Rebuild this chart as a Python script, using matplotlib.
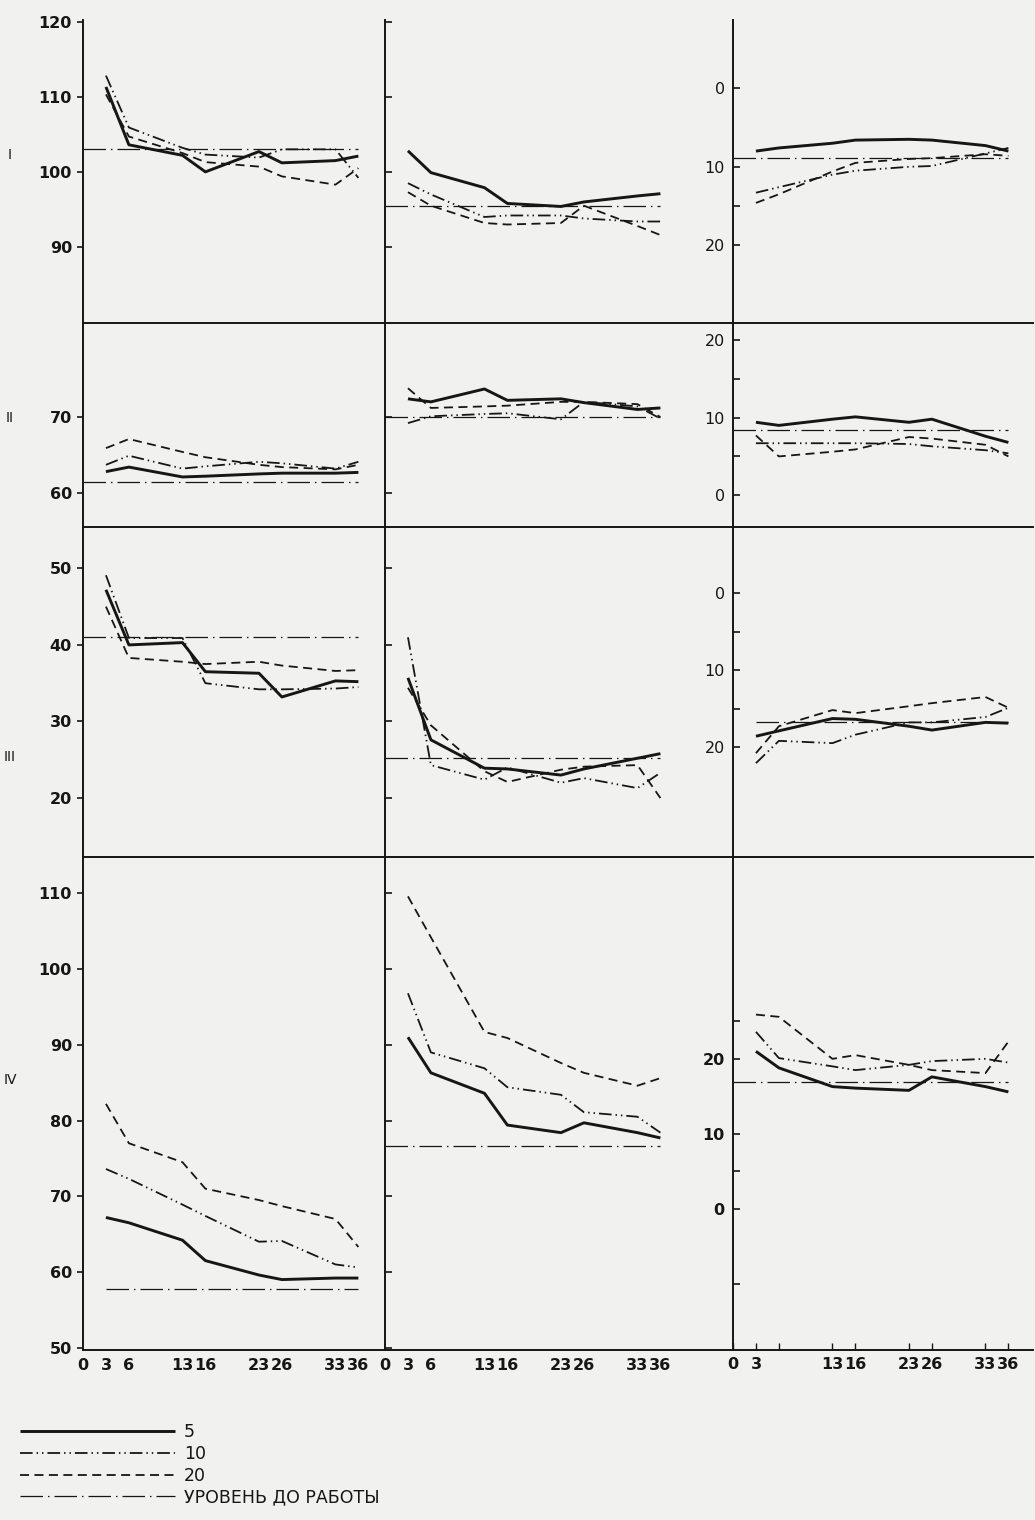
import matplotlib.pyplot as plt
from matplotlib.ticker import FixedLocator

W, H = 1035, 1520

# days of measurement (x axis)
days = [3, 6, 13, 16, 23, 26, 33, 36]
day_ticks = [0, 3, 6, 13, 16, 23, 26, 33, 36]
day_labels_ab = ["0", "3", "6", "13", "16", "23", "26", "33", "36"]
day_labels_c = ["0", "3", "", "13", "16", "23", "26", "33", "36"]
row_names = ["I", "II", "III", "IV"]
legend_labels = ["5", "10", "20", "УРОВЕНЬ ДО РАБОТЫ"]

# row I
I_a_5 = [111.3, 103.6, 102.2, 100.0, 102.7, 101.2, 101.5, 102.1]
I_a_10 = [112.8, 105.9, 103.2, 102.3, 101.9, 103.0, 103.0, 99.2]
I_a_20 = [110.3, 104.7, 102.5, 101.3, 100.7, 99.4, 98.3, 100.5]
I_a_ref = 103.0
I_b_5 = [102.8, 99.9, 97.9, 95.8, 95.4, 96.0, 96.8, 97.1]
I_b_10 = [98.5, 97.0, 94.0, 94.2, 94.2, 93.8, 93.4, 93.4]
I_b_20 = [97.3, 95.5, 93.2, 93.0, 93.2, 95.5, 92.8, 91.6]
I_b_ref = 95.5
I_c_5 = [8.0, 7.6, 7.0, 6.6, 6.5, 6.6, 7.3, 8.0]
I_c_10 = [13.3, 12.6, 11.0, 10.5, 10.0, 9.9, 8.3, 7.6]
I_c_20 = [14.6, 13.5, 10.6, 9.5, 9.0, 8.9, 8.4, 8.6]
I_c_ref = 8.9

# row II
II_a_5 = [62.8, 63.4, 62.1, 62.2, 62.5, 62.6, 62.6, 62.7]
II_a_10 = [63.7, 64.9, 63.2, 63.5, 64.1, 63.9, 63.2, 64.1]
II_a_20 = [65.9, 67.1, 65.4, 64.7, 63.7, 63.4, 63.1, 63.7]
II_a_ref = 61.4
II_b_5 = [72.4, 72.0, 73.7, 72.2, 72.4, 71.9, 71.0, 71.2]
II_b_10 = [69.2, 70.1, 70.4, 70.5, 69.7, 72.0, 71.4, 69.8]
II_b_20 = [73.8, 71.2, 71.4, 71.5, 72.0, 72.0, 71.7, 70.0]
II_b_ref = 70.0
II_c_5 = [9.4, 9.0, 9.8, 10.1, 9.4, 9.8, 7.6, 6.8]
II_c_10 = [6.7, 6.7, 6.7, 6.7, 6.6, 6.3, 5.8, 5.4]
II_c_20 = [7.7, 5.0, 5.6, 5.9, 7.5, 7.3, 6.5, 5.0]
II_c_ref = 8.4

# row III
III_a_5 = [47.2, 40.0, 40.3, 36.5, 36.3, 33.2, 35.3, 35.2]
III_a_10 = [49.1, 40.9, 40.9, 35.0, 34.2, 34.2, 34.3, 34.5]
III_a_20 = [45.0, 38.3, 37.8, 37.5, 37.8, 37.3, 36.6, 36.7]
III_a_ref = 41.0
III_b_5 = [35.7, 27.6, 23.9, 23.8, 23.0, 23.8, 25.2, 25.8]
III_b_10 = [41.0, 24.3, 22.4, 24.0, 22.0, 22.6, 21.3, 23.3]
III_b_20 = [34.4, 29.5, 23.5, 22.1, 23.7, 24.1, 24.3, 20.0]
III_b_ref = 25.2
III_c_5 = [18.6, 17.9, 16.3, 16.4, 17.3, 17.8, 16.8, 16.9]
III_c_10 = [22.1, 19.2, 19.5, 18.4, 16.8, 16.8, 16.1, 14.9]
III_c_20 = [20.8, 17.3, 15.2, 15.6, 14.7, 14.3, 13.5, 14.9]
III_c_ref = 16.8

# row IV
IV_a_5 = [67.2, 66.5, 64.2, 61.5, 59.6, 59.0, 59.2, 59.2]
IV_a_10 = [73.6, 72.3, 68.9, 67.4, 64.0, 64.1, 61.0, 60.6]
IV_a_20 = [82.2, 77.0, 74.5, 71.0, 69.5, 68.7, 67.0, 63.3]
IV_a_ref = 57.8
IV_b_5 = [91.0, 86.3, 83.6, 79.4, 78.4, 79.7, 78.4, 77.7]
IV_b_10 = [96.8, 89.0, 86.9, 84.4, 83.4, 81.1, 80.5, 78.4]
IV_b_20 = [109.6, 104.2, 91.7, 90.9, 87.6, 86.3, 84.6, 85.6]
IV_b_ref = 76.6
IV_c_5 = [21.0, 18.8, 16.3, 16.1, 15.8, 17.6, 16.3, 15.6]
IV_c_10 = [23.6, 20.1, 19.0, 18.5, 19.2, 19.7, 20.0, 19.5]
IV_c_20 = [25.9, 25.6, 20.0, 20.5, 19.2, 18.5, 18.1, 22.3]
IV_c_ref = 16.9

# first day from which the "before work" level is drawn
ref_start = [[0, 0, 0], [0, 0, 0], [0, 0, 3], [3, 0, 0]]

panels = [
    [(I_a_5, I_a_10, I_a_20, I_a_ref), (I_b_5, I_b_10, I_b_20, I_b_ref), (I_c_5, I_c_10, I_c_20, I_c_ref)],
    [(II_a_5, II_a_10, II_a_20, II_a_ref), (II_b_5, II_b_10, II_b_20, II_b_ref), (II_c_5, II_c_10, II_c_20, II_c_ref)],
    [(III_a_5, III_a_10, III_a_20, III_a_ref), (III_b_5, III_b_10, III_b_20, III_b_ref), (III_c_5, III_c_10, III_c_20, III_c_ref)],
    [(IV_a_5, IV_a_10, IV_a_20, IV_a_ref), (IV_b_5, IV_b_10, IV_b_20, IV_b_ref), (IV_c_5, IV_c_10, IV_c_20, IV_c_ref)],
]

# axis layout (pixels) and scales
col_x = [83, 385, 733]
col_w = [302, 348, 300]
row_y = [20, 323, 527, 857]
row_h = [303, 204, 330, 493]
px_per_day = 7.65
ylims = [
    [(79.9, 120.2), (79.9, 120.2), (29.9, -8.7)],
    [(55.5, 82.4), (55.5, 82.4), (-4.1, 22.2)],
    [(12.3, 55.4), (12.3, 55.4), (34.3, -8.6)],
    [(49.7, 114.8), (49.7, 114.8), (-18.8, 46.9)],
]
left_ticks = [[90, 100, 110, 120], [60, 70], [20, 30, 40, 50], [50, 60, 70, 80, 90, 100, 110]]
right_ticks = [0, 10, 20]
right_minor = [[15], [5, 15], [5, 15], [-10, 5, 25]]

ink = "#161616"
paper = "#f1f1ef"
styles = [
    dict(lw=2.1, ls="-"),
    dict(lw=1.3, ls=(0, (7, 2.2, 0.8, 2.2, 0.8, 2.2))),
    dict(lw=1.3, ls=(0, (5, 3))),
    dict(lw=0.9, ls=(0, (18, 4, 1.2, 4))),
]

fig = plt.figure(figsize=(W / 100, H / 100), dpi=100, facecolor=paper)

handles = None
for r in range(4):
    for c in range(3):
        ax = fig.add_axes([col_x[c] / W, 1 - (row_y[r] + row_h[r]) / H, col_w[c] / W, row_h[r] / H])
        ax.set_facecolor("none")
        s5, s10, s20, ref = panels[r][c]
        h = []
        for ser, st in zip((s5, s10, s20), styles[:3]):
            (ln,) = ax.plot(days, ser, color=ink, solid_capstyle="butt", **st)
            h.append(ln)
        (lr,) = ax.plot([ref_start[r][c], days[-1]], [ref, ref], color=ink, **styles[3])
        h.append(lr)
        if handles is None:
            handles = h

        ax.set_xlim(0, col_w[c] / px_per_day)
        ax.set_ylim(*ylims[r][c])
        for side in ("top", "right"):
            ax.spines[side].set_visible(False)
        for side in ("left", "bottom"):
            ax.spines[side].set_color(ink)
            ax.spines[side].set_linewidth(1.4)

        if c == 0:
            ax.set_yticks(left_ticks[r])
            ax.tick_params(axis="y", direction="out", length=4, width=1.2, pad=4,
                           labelsize=11.5, colors=ink)
            for t in ax.get_yticklabels():
                t.set_fontweight("bold")
        elif c == 1:
            ax.set_yticks(left_ticks[r])
            ax.tick_params(axis="y", direction="in", length=5, width=1.2, labelleft=False, colors=ink)
        else:
            ax.set_yticks(right_ticks)
            ax.yaxis.set_minor_locator(FixedLocator(right_minor[r]))
            ax.tick_params(axis="y", which="both", direction="in", length=5, width=1.2, pad=6,
                           labelsize=11.5, colors=ink)
            if r == 3:
                for t in ax.get_yticklabels():
                    t.set_fontweight("bold")

        if r == 3:
            ax.set_xticks(day_ticks)
            if c == 2:
                ax.set_xticklabels(day_labels_c)
                ax.tick_params(axis="x", direction="in", length=5, width=1.0, pad=5,
                               labelsize=11.5, colors=ink)
            else:
                ax.set_xticklabels(day_labels_ab)
                ax.tick_params(axis="x", length=0, pad=6, labelsize=11.5, colors=ink)
            for t in ax.get_xticklabels():
                t.set_fontweight("bold")
        else:
            ax.set_xticks([])

# row numerals on the far left
row_label_y = [155, 418, 757, 1080]
for name, y in zip(row_names, row_label_y):
    fig.text(10 / W, 1 - y / H, name, fontsize=10, color=ink, ha="center", va="center")

fig.legend(handles, legend_labels, loc="upper left", bbox_to_anchor=(20 / W, 1 - 1423 / H),
           frameon=False, fontsize=12.5, handlelength=8.9, handletextpad=0.55,
           labelspacing=0.22, borderpad=0, borderaxespad=0, labelcolor=ink)

fig.savefig("out.png", dpi=100, facecolor=paper)
